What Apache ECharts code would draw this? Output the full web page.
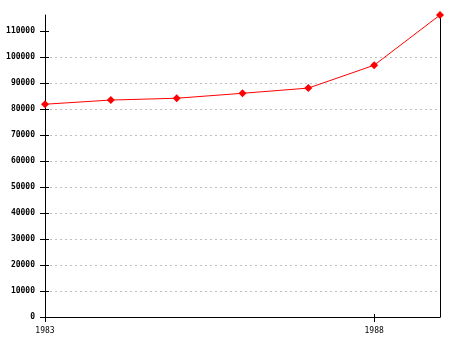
<!DOCTYPE html>
<html><head><meta charset="utf-8">
<script src="https://cdn.jsdelivr.net/npm/echarts@6/dist/echarts.min.js"></script>
<style>html,body{margin:0;padding:0;background:#fff}#c{width:455px;height:340px}</style>
</head><body><div id="c"></div>
<script>
var years = ['1983','1984','1985','1986','1987','1988','1989'];
var values = [81800, 83400, 84100, 86000, 88000, 96800, 116100];
var yTicks = [0,10000,20000,30000,40000,50000,60000,70000,80000,90000,100000,110000];
var yMax = 116100;

var font = {fontFamily:'DejaVu Sans Mono', fontSize:8, fontWeight:'bold', color:'#000'};
var chart = echarts.init(document.getElementById('c'), null, {renderer:'canvas'});
var xBase = {type:'category', data:years, boundaryGap:false, position:'bottom'};
var yBase = {type:'value', min:0, max:yMax, interval:10000};
chart.setOption({
  animation:false,
  grid:{left:45, right:15, top:15, bottom:23, containLabel:false},
  xAxis:[
    Object.assign({}, xBase, {
      axisLine:{lineStyle:{color:'#000', width:1}},
      axisTick:{show:true, interval:4, length:5, lineStyle:{color:'#000'}},
      axisLabel:Object.assign({interval:4, margin:10}, font, {fontWeight:'normal'}),
      splitLine:{show:false}
    }),
    Object.assign({}, xBase, {
      axisLine:{show:false},
      axisTick:{show:true, inside:true, interval:4, length:3, lineStyle:{color:'#000'}},
      axisLabel:{show:false}, splitLine:{show:false}
    })
  ],
  yAxis:[
    Object.assign({}, yBase, {
      position:'left',
      axisLine:{show:true, lineStyle:{color:'#000'}},
      axisTick:{show:true, length:5, customValues:yTicks, lineStyle:{color:'#000'}},
      axisLabel:Object.assign({margin:10, customValues:yTicks, formatter:function(v){return String(v);}}, font),
      splitLine:{show:true, showMaxLine:false, lineStyle:{color:'#c0c0c0', type:[2,3], width:1}}
    }),
    Object.assign({}, yBase, {
      position:'left',
      axisLine:{show:false},
      axisTick:{show:true, inside:true, length:4, customValues:yTicks, lineStyle:{color:'#000'}},
      axisLabel:{show:false}, splitLine:{show:false}
    }),
    Object.assign({}, yBase, {
      position:'right',
      axisLine:{show:true, lineStyle:{color:'#000'}},
      axisTick:{show:false}, axisLabel:{show:false}, splitLine:{show:false}
    })
  ],
  series:[{
    type:'line', data:values, xAxisIndex:0, yAxisIndex:0,
    symbol:'diamond', symbolSize:8,
    lineStyle:{color:'#ff0000', width:1},
    itemStyle:{color:'#ff0000'}
  }]
});
</script></body></html>
